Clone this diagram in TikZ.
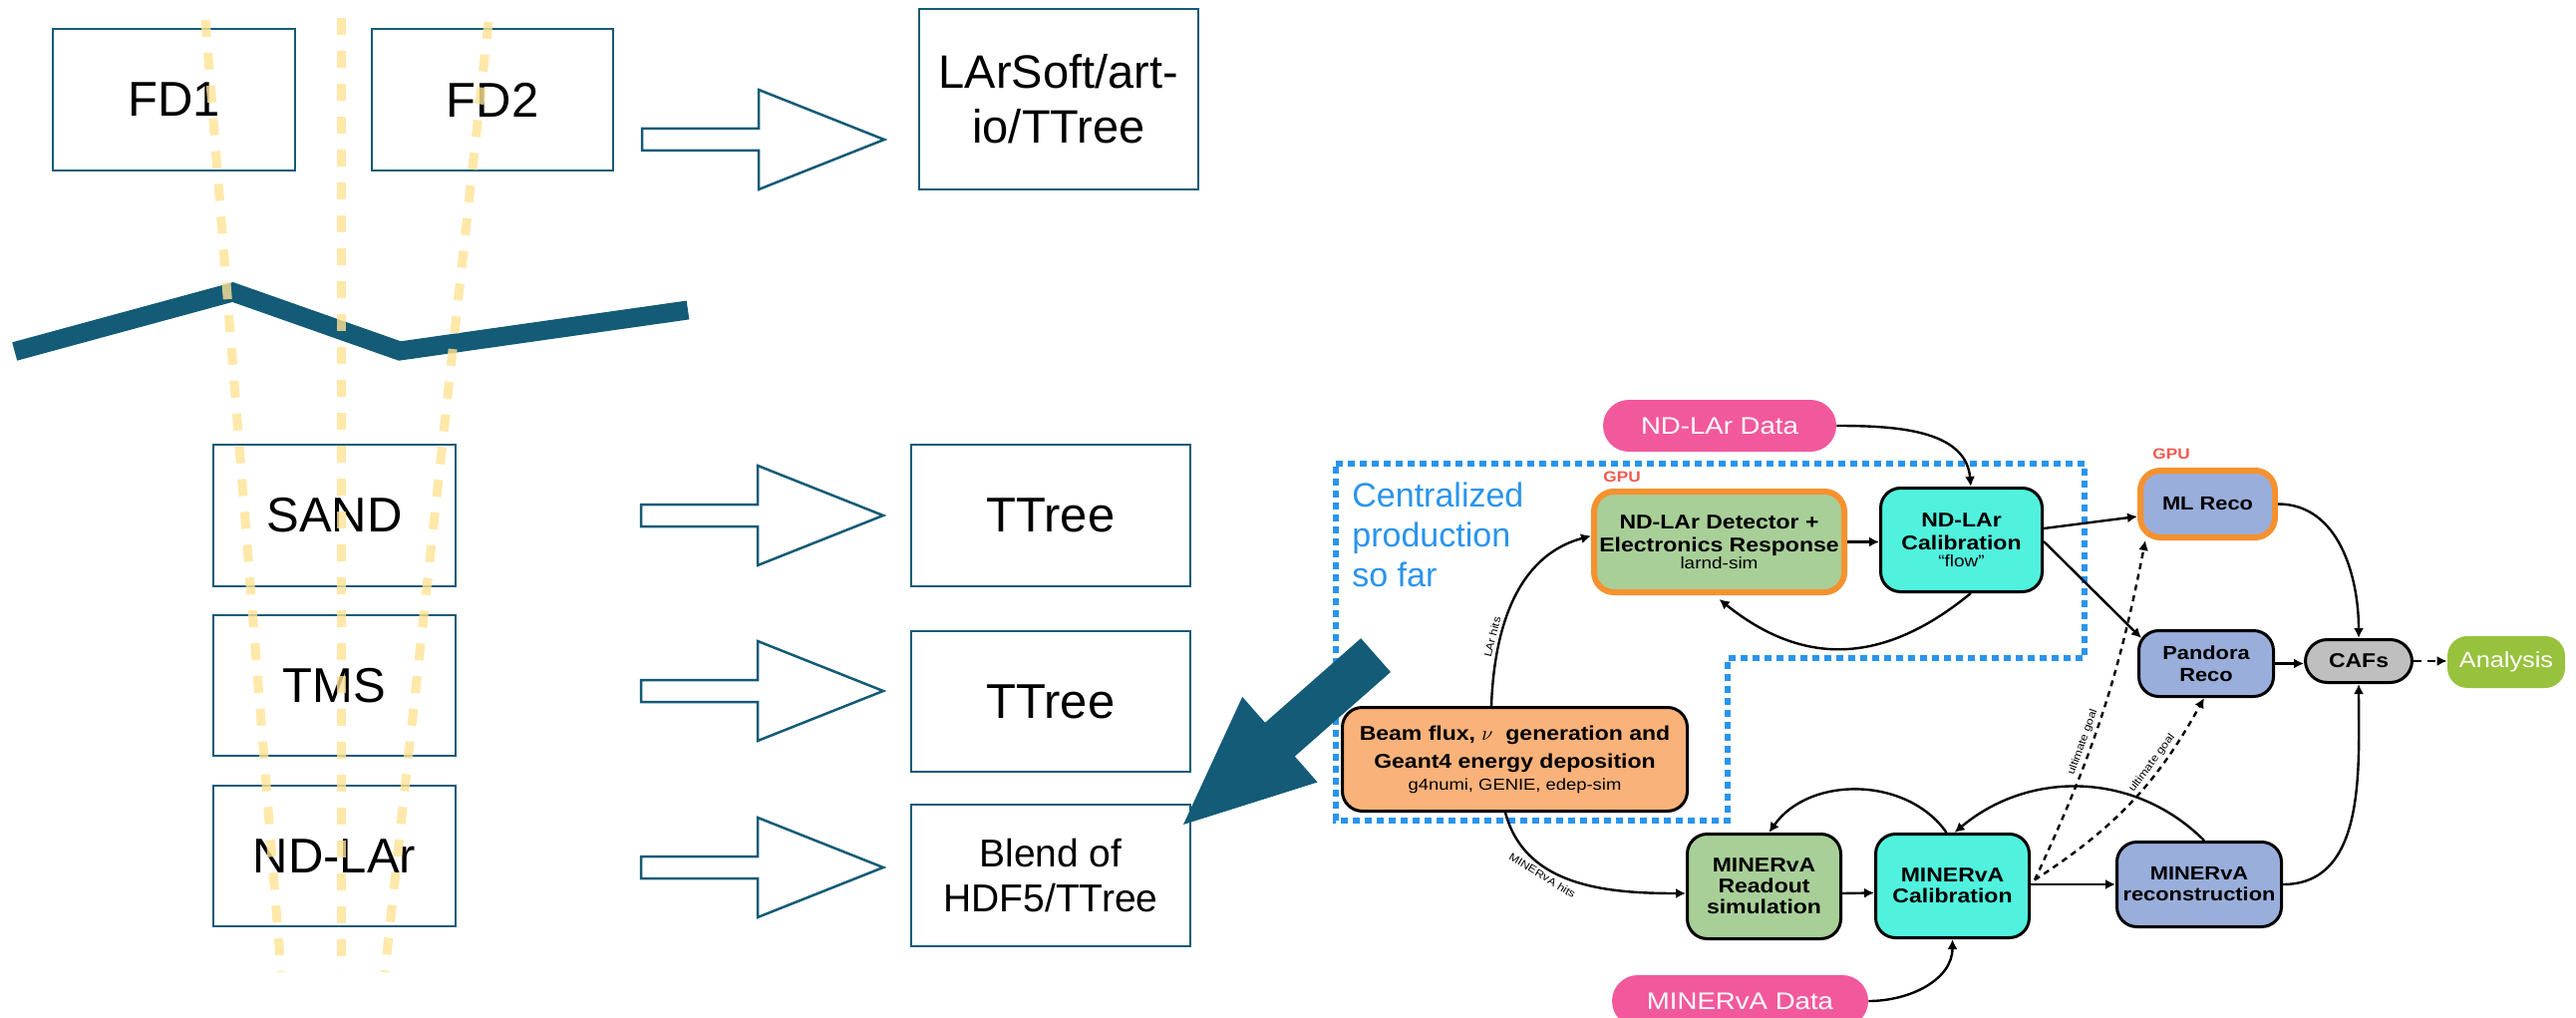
\documentclass[tikz,border=0pt]{standalone}
\usepackage{fontspec}
\setmainfont{Liberation Sans}
\newfontfamily\flowfont[FakeStretch=1.15]{Liberation Sans}
\usetikzlibrary{arrows.meta,calc}
\definecolor{dteal}{HTML}{135B77}
\definecolor{ylw}{HTML}{FFE394}
\definecolor{pinkd}{HTML}{F2599C}
\definecolor{grnbox}{HTML}{A9CF98}
\definecolor{aqua}{HTML}{50F2DE}
\definecolor{peach}{HTML}{F9B27A}
\definecolor{orng}{HTML}{F5922F}
\definecolor{peri}{HTML}{99AEDB}
\definecolor{cafgray}{HTML}{BFBFBF}
\definecolor{anagreen}{HTML}{98C23D}
\definecolor{dotblue}{HTML}{2A94EC}
\definecolor{gpured}{HTML}{F15A4F}
\tikzset{
 lbox/.style={draw=dteal, line width=1.25pt, fill=white, inner sep=0pt, align=center, font=\fontsize{24.5}{28}\selectfont},
 blockarrow/.style={draw=dteal, line width=1.25pt, fill=white},
 yline/.style={draw=ylw, line width=4.5pt, draw opacity=0.8, dash pattern=on 8.5pt off 8pt},
 fbox/.style={draw=black, line width=1.5pt, rounded corners=10pt, inner sep=0pt, align=center, font=\flowfont\bfseries\fontsize{10}{11.5}\selectfont},
 gpubox/.style={fbox, draw=orng, line width=3pt},
 pill/.style={inner sep=0pt, align=center, text=white, font=\flowfont\fontsize{12}{14}\selectfont},
 conn/.style={-{Latex[length=5pt,width=5pt]}, line width=1.2pt, black},
 dconn/.style={conn, dash pattern=on 3pt off 2.5pt},
 dconnb/.style={conn, dash pattern=on 4pt off 3pt},
 tinylbl/.style={font=\flowfont\fontsize{5.3}{6}\selectfont, inner sep=1.5pt},
 gpulbl/.style={text=gpured, inner sep=0pt, font=\flowfont\bfseries\fontsize{7.5}{8}\selectfont},
 barrow/.pic={\draw[blockarrow] (0,-11) -- (117,-11) -- (117,-50) -- (243,0) -- (117,50) -- (117,11) -- (0,11) -- cycle;}
}
\begin{document}
\begin{tikzpicture}[x=0.5pt,y=-0.5pt]
\useasboundingbox (0,0) rectangle (2584,1021);
\fill[white] (0,0) rectangle (2584,1021);

% ---------- left part ----------
\node[lbox, minimum width=121.5pt, minimum height=71pt] (fd1) at (174.5,100) {FD1};
\node[lbox, minimum width=121pt, minimum height=71pt] (fd2) at (494,100) {FD2};
\node[lbox, minimum width=140pt, minimum height=90.5pt, font=\fontsize{23.5}{27.5}\selectfont] (lar) at (1062,99.5) {LArSoft/art-\\io/TTree};
\node[lbox, minimum width=121.5pt, minimum height=71pt] (sand) at (335.5,517) {SAND};
\node[lbox, minimum width=121.5pt, minimum height=70.5pt] (tms) at (335.5,687.5) {TMS};
\node[lbox, minimum width=121.5pt, minimum height=70.5pt] (ndlar) at (335.5,858.5) {ND-LAr};
\node[lbox, minimum width=140pt, minimum height=71pt] (tt1) at (1054,517) {TTree};
\node[lbox, minimum width=140pt, minimum height=70.5pt] (tt2) at (1054,703.5) {TTree};
\node[lbox, minimum width=140pt, minimum height=71pt, font=\fontsize{19.5}{22.5}\selectfont] (blend) at (1054,878) {Blend of\\HDF5/TTree};

\pic at (644,140) {barrow};
\pic at (643,517) {barrow};
\pic at (643,693) {barrow};
\pic at (643,870) {barrow};

\draw[dteal, line width=9.5pt] (14.7,352.5) -- (233.5,293) -- (401,352) -- (690,311);

\draw[yline] (206,20) -- (282,975);
\draw[yline] (342,18) -- (342,975);
\draw[yline] (490,22) -- (386,975);

% ---------- flowchart ----------
\draw[dotblue, line width=2.75pt, dash pattern=on 3.5pt off 2.5pt]
  (1340,465) -- (2091,465) -- (2091,660) -- (1733,660) -- (1733,823) -- (1340,823) -- cycle;
\node[anchor=north west, align=left, text=dotblue, font=\fontsize{17}{20}\selectfont, inner sep=0pt] (cent) at (1356,483) {Centralized\\production\\so far};

\node[pill, fill=pinkd, rounded corners=13pt, minimum width=117pt, minimum height=26pt] (ndata) at (1725,427) {ND-LAr Data};
\node[gpubox, fill=grnbox, minimum width=125.5pt, minimum height=50.5pt] (det) at (1724.5,543.5)
  {ND-LAr Detector +\\Electronics Response\\[-3pt]{\mdseries\fontsize{8.25}{9}\selectfont larnd-sim}};
\node[gpulbl] (gpu1) at (1627,478) {GPU};
\node[fbox, fill=aqua, minimum width=81pt, minimum height=52pt] (cal) at (1967.5,541.5)
  {ND-LAr\\Calibration\\[-3pt]{\mdseries\fontsize{8.25}{9}\selectfont “flow”}};
\node[gpubox, fill=peri, minimum width=67.5pt, minimum height=33.5pt, font=\flowfont\bfseries\fontsize{9.5}{11}\selectfont] (mlreco) at (2214.5,505.5) {ML Reco};
\node[gpulbl] (gpu2) at (2178,455) {GPU};
\node[fbox, fill=peri, minimum width=67.5pt, minimum height=33pt, font=\flowfont\bfseries\fontsize{9.5}{11}\selectfont] (pandora) at (2213,665.5) {Pandora\\Reco};
\node[fbox, fill=cafgray, rounded corners=11pt, minimum width=53.5pt, minimum height=21.5pt] (cafs) at (2366,663) {CAFs};
\node[pill, fill=anagreen, rounded corners=10pt, minimum width=59pt, minimum height=26pt, font=\flowfont\fontsize{11}{13}\selectfont] (analysis) at (2514,664) {Analysis};
\node[fbox, fill=peach, minimum width=173pt, minimum height=52pt, font=\flowfont\bfseries\fontsize{10}{14}\selectfont] (beam) at (1519.5,761.5)
  {Beam flux, $\nu$\ \ generation and\\Geant4 energy deposition\\[-3pt]{\mdseries\fontsize{8}{9}\selectfont g4numi, GENIE, edep-sim}};
\node[fbox, fill=grnbox, minimum width=77pt, minimum height=52.5pt, font=\flowfont\bfseries\fontsize{10}{10.5}\selectfont] (mread) at (1769.5,889) {MINERvA\\Readout\\simulation};
\node[fbox, fill=aqua, minimum width=77pt, minimum height=52pt, font=\flowfont\bfseries\fontsize{10}{10.5}\selectfont] (mcal) at (1958.5,888.5) {MINERvA\\Calibration};
\node[fbox, fill=peri, minimum width=82.5pt, minimum height=42.5pt, font=\flowfont\bfseries\fontsize{9.5}{10.5}\selectfont] (mreco) at (2206,887) {MINERvA\\reconstruction};
\node[pill, fill=pinkd, rounded corners=13pt, minimum width=128.5pt, minimum height=26pt] (mdata) at (1745.5,1004) {MINERvA Data};

% connectors
\draw[conn] (ndata.east) to[out=0,in=95] (cal.80);
\draw[conn] (det.east) -- (det.east -| cal.west);
\draw[conn] (cal.-80) .. controls (1888,668) and (1808,668) .. ($(det.south)+(0,4)$);
\draw[conn] ($(beam.north)+(-23.5,0)$) to[out=88,in=195] node[pos=0.3, sloped, above, tinylbl] {LAr hits} ($(det.west)+(0,-6)$);
\draw[conn] ($(beam.south)+(-9.5,0)$) to[out=-75,in=180] node[pos=0.35, sloped, below, tinylbl] {MINERvA hits} ($(mread.west)+(0,7)$);
\draw[conn] ($(mread.east)+(0,7)$) -- ($(mcal.west)+(0,7)$);
\draw[conn] ($(mcal.north)+(-6,0)$) to[out=125,in=55] ($(mread.north)+(5,0)$);
\draw[conn] ($(mreco.north)+(5,0)$) to[out=135,in=40] ($(mcal.north)+(2,0)$);
\draw[conn] ($(mcal.east)+(0,-1.5)$) -- (mreco.west);
\draw[conn] (mdata.east) to[out=0,in=-90] (mcal.south);
\draw[conn] ($(cal.east)+(0,-11.5)$) -- ($(mlreco.west)+(0,12.5)$);
\draw[conn] ($(cal.east)+(0,1.5)$) -- ($(pandora.north west)+(4,9)$);
\draw[conn] (mlreco.east) to[out=0,in=90] (cafs.north);
\draw[conn] (pandora.east) -- (pandora.east -| cafs.west);
\draw[dconnb] (cafs.east) -- (cafs.east -| analysis.west);
\draw[conn] (mreco.east) to[out=0,in=-90] (cafs.south);
\draw[dconn] ($(mcal.east)+(4,-6)$) to[bend right=7] node[pos=0.4, sloped, above, tinylbl] {ultimate goal} ($(mlreco.south west)+(8,0)$);
\draw[dconn] ($(mcal.east)+(4,-6)$) to[bend right=14] node[pos=0.68, sloped, above, tinylbl] {ultimate goal} ($(pandora.south)+(-2,0)$);

% big blue arrow
\fill[dteal] (1187,827) -- (1246.2,698.9) -- (1269.0,724.8) -- (1365.1,640.2) -- (1394.9,674.0) -- (1298.8,758.6) -- (1321.6,784.5) -- cycle;
\end{tikzpicture}
\end{document}
